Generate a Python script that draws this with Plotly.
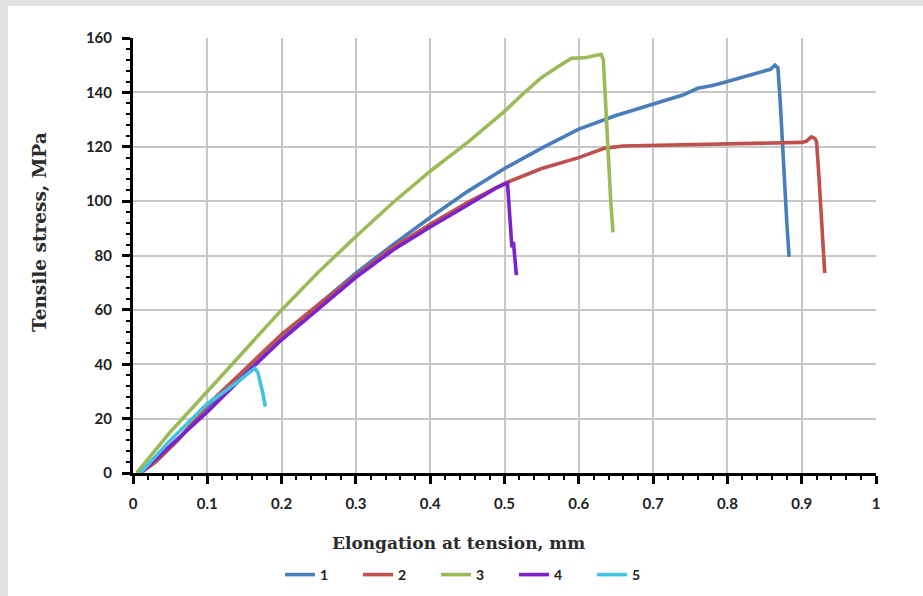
import plotly.graph_objects as go

# ---- data ----
x1 = [0.01, 0.03, 0.06, 0.10, 0.15, 0.20, 0.25, 0.30, 0.35, 0.40, 0.45, 0.50, 0.55, 0.60,
      0.65, 0.70, 0.74, 0.76, 0.78, 0.80, 0.83, 0.85, 0.858, 0.864, 0.868, 0.871, 0.874,
      0.877, 0.880, 0.883]
y1 = [0, 4, 12, 24, 37.5, 50.5, 62, 73.5, 84, 94, 103.5, 112, 119.5, 126.5,
      131.5, 135.5, 139, 141.5, 142.5, 144, 146.5, 148, 148.5, 150, 149, 137, 121,
      105, 92, 79.5]

x2 = [0.01, 0.03, 0.06, 0.10, 0.15, 0.20, 0.25, 0.30, 0.35, 0.40, 0.45, 0.50, 0.55, 0.60,
      0.635, 0.66, 0.70, 0.75, 0.80, 0.85, 0.90, 0.906, 0.913, 0.918, 0.920, 0.923, 0.925,
      0.928, 0.931]
y2 = [0, 4, 12, 25, 38, 51, 62, 72.5, 83, 91.5, 99.5, 106.5, 112, 116,
      119.5, 120.3, 120.5, 120.8, 121, 121.2, 121.6, 122, 123.6, 123, 121.8, 110, 100,
      87, 73.5]

x3 = [0.005, 0.05, 0.10, 0.15, 0.20, 0.25, 0.30, 0.35, 0.40, 0.45, 0.50, 0.525, 0.55,
      0.575, 0.59, 0.61, 0.625, 0.630, 0.633, 0.636, 0.640, 0.643, 0.646]
y3 = [0, 15, 30, 45, 60, 74, 87, 99.5, 111, 121.5, 133, 139.5, 145.5,
      150, 152.5, 152.8, 153.5, 154, 152, 135, 115, 100, 88.5]

x4 = [0.01, 0.05, 0.10, 0.15, 0.20, 0.25, 0.30, 0.35, 0.40, 0.45, 0.49, 0.504, 0.506,
      0.509, 0.510, 0.512, 0.514, 0.516]
y4 = [0, 10, 22.5, 36, 49, 60.5, 72, 82, 90.5, 98.5, 105, 106.7, 100,
      88, 83, 85, 79, 72.8]

x5 = [0.01, 0.05, 0.10, 0.117, 0.144, 0.158, 0.164, 0.168, 0.172, 0.175, 0.178]
y5 = [0, 12, 25.5, 28.7, 34.2, 37, 38.6, 37, 33, 29, 24.4]

series_names = ["1", "2", "3", "4", "5"]
series_colors = ["#4a7ebb", "#c0504d", "#9bbb59", "#7a22cc", "#45c2df"]
series_x = [x1, x2, x3, x4, x5]
series_y = [y1, y2, y3, y4, y5]

x_ticks = [0, 0.1, 0.2, 0.3, 0.4, 0.5, 0.6, 0.7, 0.8, 0.9, 1]
x_labels = ["0", "0.1", "0.2", "0.3", "0.4", "0.5", "0.6", "0.7", "0.8", "0.9", "1"]
y_ticks = [0, 20, 40, 60, 80, 100, 120, 140, 160]

x_title = "Elongation at tension, mm"
y_title = "Tensile stress, MPa"

# ---- figure ----
fig = go.Figure()
for nm, col, xs, ys in zip(series_names, series_colors, series_x, series_y):
    fig.add_trace(go.Scatter(x=xs, y=ys, mode="lines", name=nm,
                             line=dict(color=col, width=3.6)))

L, R, T, B = 133, 47, 38, 123
W, H = 923, 596
pw, ph = W - L - R, H - T - B


def px(xp):
    return (xp - L) / pw


def py(yp):
    return (H - B - yp) / ph


tickfont = dict(family="Lato, 'Open Sans', sans-serif", size=15, color="#222222",
                weight="bold")
xtitlefont = dict(family="'DejaVu Serif', serif", size=17, color="#2b2b2b", weight="bold")
ytitlefont = dict(family="'DejaVu Serif', serif", size=18.5, color="#2b2b2b", weight="bold")

fig.update_layout(
    width=W, height=H, autosize=False,
    margin=dict(l=L, r=R, t=T, b=B, pad=0),
    paper_bgcolor="white", plot_bgcolor="white",
    showlegend=True,
    legend=dict(orientation="h", xref="container", yref="container",
                x=280 / W, xanchor="left", y=1 - 575 / H, yanchor="middle",
                entrywidth=33, entrywidthmode="pixels", itemwidth=30,
                font=dict(family="Lato, sans-serif", size=14, color="#222222",
                          weight="bold"),
                bgcolor="rgba(0,0,0,0)", tracegroupgap=0),
    xaxis=dict(range=[0, 1], tickmode="array", tickvals=x_ticks, ticktext=x_labels,
               showgrid=True, gridcolor="#c8c8c8", gridwidth=1.5,
               showline=True, linecolor="black", linewidth=3,
               ticks="outside", ticklen=8, tickwidth=2.5, tickcolor="black",
               ticklabelstandoff=7,
               minor=dict(dtick=0.02, ticks="outside", ticklen=4, tickwidth=2,
                          tickcolor="black", showgrid=False),
               tickfont=tickfont, zeroline=False, fixedrange=True),
    yaxis=dict(range=[0, 160], tickmode="array", tickvals=y_ticks,
               showgrid=True, gridcolor="#c8c8c8", gridwidth=1.5,
               showline=True, linecolor="black", linewidth=3,
               ticks="outside", ticklen=8, tickwidth=2.5, tickcolor="black",
               ticklabelstandoff=7,
               minor=dict(dtick=4, ticks="outside", ticklen=4, tickwidth=2,
                          tickcolor="black", showgrid=False),
               tickfont=tickfont, zeroline=False, fixedrange=True),
    annotations=[
        dict(text=x_title, xref="paper", yref="paper",
             x=px(458), y=py(543), showarrow=False, font=xtitlefont,
             xanchor="center", yanchor="middle"),
        dict(text=y_title, xref="paper", yref="paper",
             x=px(40), y=py(232), showarrow=False, font=ytitlefont, textangle=-90,
             xanchor="center", yanchor="middle"),
    ],
    shapes=[
        dict(type="rect", xref="paper", yref="paper", x0=px(0), x1=px(8), y0=py(H), y1=py(0),
             fillcolor="#e2e2e2", line=dict(width=0), layer="below"),
        dict(type="rect", xref="paper", yref="paper", x0=px(0), x1=px(W), y0=py(6), y1=py(0),
             fillcolor="#e2e2e2", line=dict(width=0), layer="below"),
    ],
)

fig.write_html("out.html",
               config={"displayModeBar": False, "responsive": False},
               post_script="document.body.style.margin='0';"
                           "document.body.style.overflow='hidden';"
                           "document.documentElement.style.overflow='hidden';")
